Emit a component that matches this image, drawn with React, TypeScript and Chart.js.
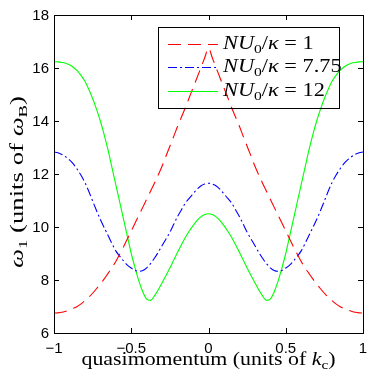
import React, { useEffect, useRef } from "react";
import { Chart, registerables } from "chart.js";

Chart.register(...registerables);

const Q = [
  -1, -0.975, -0.95, -0.925, -0.9, -0.875, -0.85, -0.825, -0.8, -0.775, -0.75, -0.725, -0.7, -0.675, -0.65, -0.625, -0.6, -0.575, -0.55, -0.525,
  -0.5, -0.475, -0.45, -0.425, -0.4, -0.375, -0.35, -0.325, -0.3, -0.275, -0.25, -0.225, -0.2, -0.175, -0.15, -0.125, -0.1, -0.075, -0.05, -0.025,
  0,
  0.025, 0.05, 0.075, 0.1, 0.125, 0.15, 0.175, 0.2, 0.225, 0.25, 0.275, 0.3, 0.325, 0.35, 0.375, 0.4, 0.425, 0.45, 0.475, 0.5,
  0.525, 0.55, 0.575, 0.6, 0.625, 0.65, 0.675, 0.7, 0.725, 0.75, 0.775, 0.8, 0.825, 0.85, 0.875, 0.9, 0.925, 0.95, 0.975, 1,
];

const RED = [
  6.75, 6.76, 6.78, 6.82, 6.87, 6.93, 7.0, 7.1, 7.22, 7.35, 7.5, 7.67, 7.85, 8.04, 8.25, 8.46, 8.7, 8.97, 9.25, 9.55,
  9.85, 10.15, 10.45, 10.75, 11.05, 11.35, 11.65, 11.97, 12.3, 12.68, 13.05, 13.42, 13.8, 14.15, 14.5, 14.88, 15.25, 15.62, 16.0, 16.38,
  16.75,
  16.38, 16.0, 15.62, 15.25, 14.88, 14.5, 14.15, 13.8, 13.42, 13.05, 12.68, 12.3, 11.97, 11.65, 11.35, 11.05, 10.75, 10.45, 10.15, 9.85,
  9.55, 9.25, 8.97, 8.7, 8.46, 8.25, 8.04, 7.85, 7.67, 7.5, 7.35, 7.22, 7.1, 7.0, 6.93, 6.87, 6.82, 6.78, 6.76, 6.75,
];

const BLUE = [
  12.83, 12.8, 12.74, 12.65, 12.53, 12.38, 12.18, 11.95, 11.68, 11.35, 10.98, 10.62, 10.28, 9.98, 9.68, 9.38, 9.1, 8.9, 8.72, 8.56,
  8.45, 8.36, 8.33, 8.36, 8.46, 8.62, 8.82, 9.05, 9.3, 9.55, 9.8, 10.1, 10.4, 10.65, 10.9, 11.08, 11.25, 11.42, 11.55, 11.62,
  11.65,
  11.62, 11.55, 11.42, 11.25, 11.08, 10.9, 10.65, 10.4, 10.1, 9.8, 9.55, 9.3, 9.05, 8.82, 8.62, 8.46, 8.36, 8.33, 8.36, 8.45,
  8.56, 8.72, 8.9, 9.1, 9.38, 9.68, 9.98, 10.28, 10.62, 10.98, 11.35, 11.68, 11.95, 12.18, 12.38, 12.53, 12.65, 12.74, 12.8, 12.83,
];

const GREEN = [
  16.24, 16.23, 16.21, 16.18, 16.12, 16.03, 15.9, 15.72, 15.5, 15.2, 14.85, 14.45, 14.0, 13.48, 12.9, 12.25, 11.6, 10.95, 10.3, 9.65,
  9.0, 8.45, 7.95, 7.55, 7.28, 7.23, 7.4, 7.63, 7.9, 8.17, 8.45, 8.75, 9.05, 9.33, 9.6, 9.84, 10.05, 10.24, 10.38, 10.47,
  10.5,
  10.47, 10.38, 10.24, 10.05, 9.84, 9.6, 9.33, 9.05, 8.75, 8.45, 8.17, 7.9, 7.63, 7.4, 7.23, 7.28, 7.55, 7.95, 8.45, 9.0,
  9.65, 10.3, 10.95, 11.6, 12.25, 12.9, 13.48, 14.0, 14.45, 14.85, 15.2, 15.5, 15.72, 15.9, 16.03, 16.12, 16.18, 16.21, 16.23, 16.24,
];

const X_TICKS = [-1, -0.5, 0, 0.5, 1];
const X_TICK_LABELS = ["\u22121", "\u22120.5", "0", "0.5", "1"];
const Y_TICKS = [6, 8, 10, 12, 14, 16, 18];
const Y_TICK_LABELS = ["6", "8", "10", "12", "14", "16", "18"];
const SERIES_LABELS = ["1", "7.75", "12"];

type Part = { t: string; it?: boolean; sub?: boolean };

const SERIF = '"Liberation Serif", "DejaVu Serif", serif';
const SANS = '"Liberation Sans", Arial, sans-serif';

function partFont(p: Part, size: number) {
  const s = p.sub ? size * 0.7 : size;
  return `${p.it ? "italic " : ""}${s}px ${SERIF}`;
}

function richWidth(ctx: CanvasRenderingContext2D, parts: Part[], size: number) {
  let w = 0;
  for (const p of parts) {
    ctx.font = partFont(p, size);
    w += ctx.measureText(p.t).width;
  }
  return w;
}

// draws rich text; sx is a horizontal stretch (serif in the reference is wider than Times)
function drawRich(
  ctx: CanvasRenderingContext2D,
  parts: Part[],
  x: number,
  y: number,
  size: number,
  align: "left" | "center",
  sx: number
) {
  const w = richWidth(ctx, parts, size);
  ctx.save();
  ctx.translate(x, y);
  ctx.scale(sx, 1);
  let cx = align === "center" ? -w / 2 : 0;
  ctx.textAlign = "left";
  ctx.textBaseline = "alphabetic";
  for (const p of parts) {
    ctx.font = partFont(p, size);
    ctx.fillText(p.t, cx, p.sub ? size * 0.22 : 0);
    cx += ctx.measureText(p.t).width;
  }
  ctx.restore();
}

const COLORS = ["#ff0000", "#0000ff", "#00ff00"];
const DASHES: number[][] = [[13, 7], [9, 3, 2, 3], []];

const framePlugin = {
  id: "matlabFrame",
  afterDraw(chart: any) {
    const ctx: CanvasRenderingContext2D = chart.ctx;
    const { left, right, top, bottom } = chart.chartArea;
    const xs = chart.scales.x;
    const ys = chart.scales.y;
    ctx.save();
    ctx.strokeStyle = "#000";
    ctx.lineWidth = 1;
    ctx.setLineDash([]);
    ctx.strokeRect(Math.round(left) + 0.5, Math.round(top) + 0.5, Math.round(right - left), Math.round(bottom - top));
    const tl = 5;
    ctx.beginPath();
    X_TICKS.forEach((v) => {
      const px = Math.round(xs.getPixelForValue(v)) + 0.5;
      ctx.moveTo(px, bottom);
      ctx.lineTo(px, bottom - tl);
      ctx.moveTo(px, top);
      ctx.lineTo(px, top + tl);
    });
    Y_TICKS.forEach((v) => {
      const py = Math.round(ys.getPixelForValue(v)) + 0.5;
      ctx.moveTo(left, py);
      ctx.lineTo(left + tl, py);
      ctx.moveTo(right, py);
      ctx.lineTo(right - tl, py);
    });
    ctx.stroke();

    ctx.fillStyle = "#000";
    ctx.font = `15px ${SANS}`;
    ctx.textAlign = "center";
    ctx.textBaseline = "alphabetic";
    X_TICKS.forEach((v, i) => {
      ctx.fillText(X_TICK_LABELS[i], xs.getPixelForValue(v), bottom + 20);
    });
    ctx.textAlign = "right";
    ctx.textBaseline = "middle";
    Y_TICKS.forEach((v, i) => {
      ctx.fillText(Y_TICK_LABELS[i], left - 5, ys.getPixelForValue(v) + 1);
    });

    // x title
    const xParts: Part[] = [{ t: "quasimomentum (units of " }, { t: "k", it: true }, { t: "c", sub: true }, { t: ")" }];
    const xw = richWidth(ctx, xParts, 18);
    drawRich(ctx, xParts, (left + right) / 2, bottom + 32, 18, "center", 254 / xw);

    // y title
    const yParts: Part[] = [
      { t: "\u03c9", it: true },
      { t: "1", sub: true },
      { t: " (units of " },
      { t: "\u03c9", it: true },
      { t: "B", sub: true },
      { t: ")" },
    ];
    const yw = richWidth(ctx, yParts, 18);
    ctx.save();
    ctx.translate(23, 182);
    ctx.rotate(-Math.PI / 2);
    drawRich(ctx, yParts, 0, 0, 18, "center", 172 / yw);
    ctx.restore();

    // legend
    const lx = 158, ly = 27, lw = 181, lh = 81;
    ctx.strokeStyle = "#000";
    ctx.lineWidth = 1;
    ctx.strokeRect(lx + 0.5, ly + 0.5, lw, lh);
    const rows = [44, 67, 91];
    chart.data.datasets.forEach((ds: any, i: number) => {
      const yy = rows[i] + 0.5;
      ctx.strokeStyle = ds.borderColor;
      ctx.setLineDash(ds.borderDash || []);
      ctx.lineWidth = 1.1;
      ctx.beginPath();
      ctx.moveTo(168, yy);
      ctx.lineTo(218, yy);
      ctx.stroke();
      ctx.setLineDash([]);
      ctx.fillStyle = "#000";
      drawRich(
        ctx,
        [
          { t: "NU", it: true },
          { t: "0", sub: true },
          { t: "/" },
          { t: "\u03ba", it: true },
          { t: " = " + SERIES_LABELS[i] },
        ],
        223,
        rows[i] + 5,
        18,
        "left",
        1.24
      );
    });
    ctx.restore();
  },
};

export default function App() {
  const ref = useRef<HTMLCanvasElement | null>(null);
  useEffect(() => {
    if (!ref.current) return;
    const series = [RED, BLUE, GREEN];
    const chart = new Chart(ref.current, {
      type: "line",
      data: {
        datasets: series.map((vals, i) => ({
          label: "NU0/k = " + SERIES_LABELS[i],
          data: Q.map((q, j) => ({ x: q, y: vals[j] })),
          borderColor: COLORS[i],
          borderWidth: 1.1,
          borderDash: DASHES[i],
          pointRadius: 0,
          fill: false,
          cubicInterpolationMode: "monotone" as const,
        })),
      },
      options: {
        animation: false,
        responsive: false,
        devicePixelRatio: 1,
        layout: { padding: { left: 54, right: 11, top: 15, bottom: 51 } },
        plugins: { legend: { display: false }, tooltip: { enabled: false } },
        scales: {
          x: { type: "linear", min: -1, max: 1, display: false },
          y: { type: "linear", min: 6, max: 18, display: false },
        },
      },
      plugins: [framePlugin],
    });
    return () => chart.destroy();
  }, []);
  return (
    <div style={{ position: "absolute", left: 0, top: 0, width: 374, height: 384, background: "#fff" }}>
      <canvas ref={ref} width={374} height={384} style={{ display: "block" }} />
    </div>
  );
}
